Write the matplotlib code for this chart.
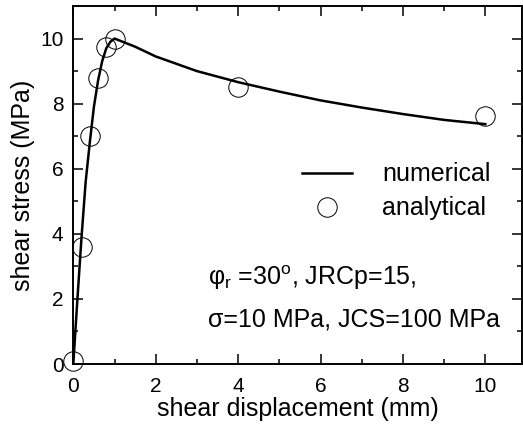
import numpy as np
import matplotlib
matplotlib.use('Agg')
from matplotlib import pyplot as plt
from matplotlib.ticker import MultipleLocator

plt.rcParams['font.family'] = ['Liberation Sans', 'DejaVu Sans']
plt.rcParams['mathtext.fontset'] = 'custom'
plt.rcParams['mathtext.rm'] = 'Liberation Sans'
plt.rcParams['mathtext.it'] = 'Liberation Sans:italic'

# numerical curve
num_disp = [0.0, 0.05, 0.1, 0.2, 0.3, 0.4, 0.5, 0.6, 0.7, 0.8, 0.9, 1.0,
            1.5, 2.0, 3.0, 4.0, 5.0, 6.0, 7.0, 8.0, 9.0, 10.0]
num_stress = [0.0, 1.0, 2.0, 3.9, 5.6, 6.8, 7.9, 8.7, 9.3, 9.7, 9.9, 10.0,
              9.75, 9.45, 9.0, 8.66, 8.37, 8.1, 7.88, 7.68, 7.5, 7.37]

# analytical points
ana_disp = [0.0, 0.2, 0.4, 0.6, 0.8, 1.0, 4.0, 10.0]
ana_stress = [0.1, 3.6, 7.0, 8.8, 9.75, 10.0, 8.5, 7.62]

fig = plt.figure(figsize=(5.23, 4.26), dpi=100)
ax = fig.add_axes([73.3 / 523, 1 - 364 / 426, 449.1 / 523, 358 / 426])

ax.plot(num_disp, num_stress, color='black', linewidth=1.8, label='numerical')
ax.plot(ana_disp, ana_stress, linestyle='none', marker='o', markersize=14,
        markerfacecolor='none', markeredgecolor='black', markeredgewidth=0.7,
        clip_on=False, label='analytical')

ax.set_xlim(0, 10.9)
ax.set_ylim(0, 11.0)
ax.xaxis.set_major_locator(MultipleLocator(2))
ax.xaxis.set_minor_locator(MultipleLocator(1))
ax.yaxis.set_major_locator(MultipleLocator(2))
ax.yaxis.set_minor_locator(MultipleLocator(1))
ax.tick_params(which='both', direction='in', top=True, right=True, width=1.1)
ax.tick_params(which='major', length=7, labelsize=15, pad=7)
ax.tick_params(axis='x', which='major', pad=9)
ax.tick_params(which='minor', length=3.5)
for sp in ax.spines.values():
    sp.set_linewidth(1.4)

ax.set_xlabel('shear displacement (mm)', fontsize=18, labelpad=1)
ax.set_ylabel('shear stress (MPa)', fontsize=18, labelpad=4)

ax.legend(loc='center left', bbox_to_anchor=(0.509, 0.482), frameon=False,
          fontsize=18, handlelength=2.0, handletextpad=1.2, labelspacing=0.4,
          borderpad=0, borderaxespad=0)

ax.text(0.30, 0.222, r'φ$_\mathrm{r}$ =30$^\mathrm{o}$, JRCp=15,',
        transform=ax.transAxes, fontsize=18, va='baseline', ha='left')
ax.text(0.30, 0.105, 'σ=10 MPa, JCS=100 MPa',
        transform=ax.transAxes, fontsize=18, va='baseline', ha='left')

fig.savefig('out.png', dpi=100)
